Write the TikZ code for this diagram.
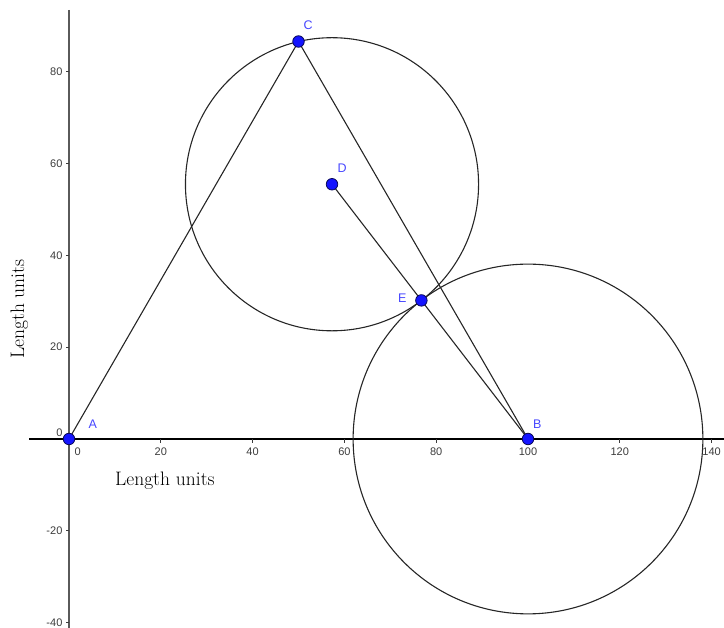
\documentclass[tikz,border=0pt]{standalone}
\usepackage{fontspec}
\setsansfont{Liberation Sans}
\usetikzlibrary{calc}
\definecolor{ptfill}{RGB}{20,20,255}
\definecolor{ptdraw}{RGB}{10,10,90}
\definecolor{lblcol}{RGB}{70,70,255}
\definecolor{axcol}{RGB}{90,90,90}
\definecolor{tickcol}{RGB}{60,60,60}
\tikzset{
  pt/.style={circle,fill=ptfill,draw=ptdraw,line width=0.8pt,inner sep=0pt,minimum size=11.5pt},
  ptlbl/.style={text=lblcol,font=\sffamily\fontsize{12.5}{14}\selectfont,inner sep=0pt},
  ticklbl/.style={text=tickcol,font=\sffamily\fontsize{11}{13}\selectfont,inner sep=0pt},
  geo/.style={draw=black!85,line width=1.1pt},
  axlbl/.style={font=\fontsize{19.5}{22}\selectfont,inner sep=0pt}
}
\begin{document}
\begin{tikzpicture}[x=4.59pt,y=4.59pt]
\useasboundingbox (-15.033,-41.176) rectangle (142.702,95.643);
% axes
\draw[black,line width=1.1pt] (-8.7,0) -- (142.702,0);
\draw[axcol,line width=1.6pt] (0,93.5) -- (0,-41.176);
% x ticks
\foreach \v in {20,40,...,140} {
  \draw[tickcol,line width=0.8pt] (\v,0) -- (\v,-0.8);
  \node[ticklbl] at (\v,-2.7) {\v};
}
\node[ticklbl] at (1.9,-2.7) {0};
% y ticks
\foreach \v in {-40,-20,20,40,60,80} {
  \draw[tickcol,line width=0.8pt] (0,\v) -- (-0.6,\v);
  \node[ticklbl,anchor=east] at (-1.4,\v) {\v};
}
\node[ticklbl,anchor=east] at (-1.4,1.3) {0};
% axis labels
\node[axlbl] (xl) at (20.9,-9.0) {Length units};
\node[axlbl,rotate=90] (yl) at (-10.8,28.3) {Length units};
% points
\coordinate (Ac) at (0,0);
\coordinate (Bc) at (100,0);
\coordinate (Cc) at (50,86.6);
\coordinate (Dc) at (57.3,55.5);
\coordinate (Ec) at ($(Bc)!0.544!(Dc)$);
% circles
\draw[geo] (Dc) circle (31.93);
\draw[geo] (Bc) circle (38.1);
% segments
\draw[geo] (Ac) -- (Cc);
\draw[geo] (Cc) -- (Bc);
\draw[geo] (Dc) -- (Ec);
\draw[geo] (Ec) -- (Bc);
% point nodes
\node[pt] (A) at (Ac) {};
\node[pt] (B) at (Bc) {};
\node[pt] (C) at (Cc) {};
\node[pt] (D) at (Dc) {};
\node[pt] (E) at (Ec) {};
\node[ptlbl] (lA) at (5.2,3.3) {A};
\node[ptlbl] (lB) at (102.0,3.3) {B};
\node[ptlbl] (lC) at (52.1,90.2) {C};
\node[ptlbl] (lD) at (59.5,58.9) {D};
\node[ptlbl] (lE) at (72.6,30.6) {E};
\end{tikzpicture}
\end{document}
